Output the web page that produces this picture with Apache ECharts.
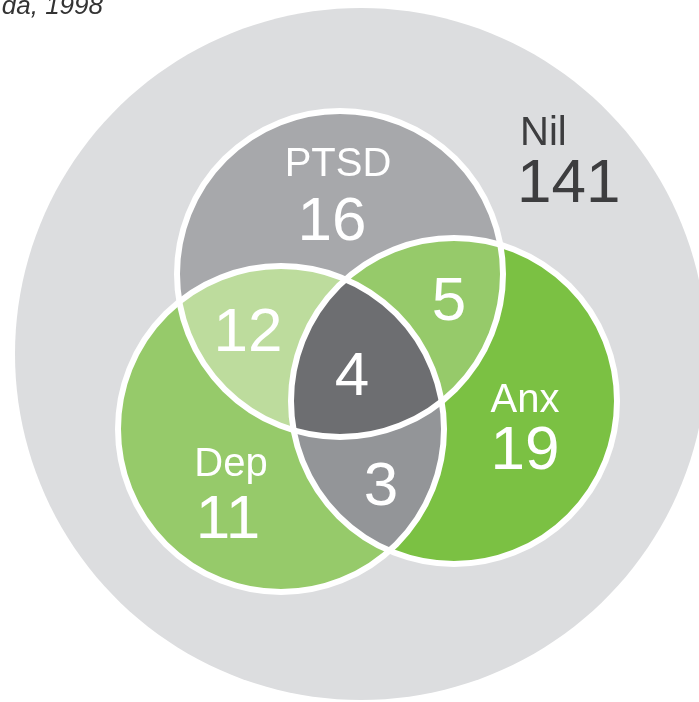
<!DOCTYPE html>
<html>
<head>
<meta charset="utf-8">
<script src="https://cdn.jsdelivr.net/npm/echarts@6/dist/echarts.min.js"></script>
<style>
  html, body { margin: 0; padding: 0; background: #fff; }
  #chart { width: 699px; height: 702px; }
</style>
</head>
<body>
<div id="chart"></div>
<script>
// ---- data ----
const setNames = ['PTSD', 'Dep', 'Anx'];
const regionNames = ['Nil', 'PTSD', 'Dep', 'Anx', 'PTSD+Dep', 'PTSD+Anx', 'Dep+Anx', 'PTSD+Dep+Anx'];
const regionSets = [[], [0], [1], [2], [0, 1], [0, 2], [1, 2], [0, 1, 2]];
const regionCounts = [141, 16, 11, 19, 12, 5, 3, 4];
const sourceNote = 'da, 1998';

// ---- layout (pixel units of the hidden axes) ----
const outer = { x: 361, y: 354, r: 346 };
const circles = [
  { x: 340, y: 274 },   // PTSD
  { x: 281, y: 429 },   // Dep
  { x: 454, y: 401 }    // Anx
];
const R = 163;
// where each region puts its name / count
const namePos = [[520, 134, 'left'], [338, 165], [231, 465], [525, 401], null, null, null, null];
const countPos = [[517, 185, 'left'], [332, 223], [228, 521], [525, 452], [248, 334], [449, 303], [381, 488], [352, 378]];

// ---- styles ----
const regionColors = ['#dcdddf', '#a7a8ab', '#96ca6a', '#7bc143', '#bddc9d', '#96ca6a', '#939598', '#6d6e71'];
const fontFamily = '"Liberation Sans", Arial, sans-serif';

// ---- geometry helpers ----
function intersections(a, b) {
  const dx = b.x - a.x, dy = b.y - a.y;
  const d = Math.sqrt(dx * dx + dy * dy);
  const h = Math.sqrt(R * R - (d / 2) * (d / 2));
  const mx = (a.x + b.x) / 2, my = (a.y + b.y) / 2;
  const ux = -dy / d, uy = dx / d;
  return [[mx + ux * h, my + uy * h], [mx - ux * h, my - uy * h]];
}
function inside(p, c) {
  return (p[0] - c.x) ** 2 + (p[1] - c.y) ** 2 < R * R;
}
// points along the short arc of circle c from p to q
function arc(c, p, q) {
  const a0 = Math.atan2(p[1] - c.y, p[0] - c.x);
  let a1 = Math.atan2(q[1] - c.y, q[0] - c.x);
  let da = a1 - a0;
  while (da > Math.PI) da -= 2 * Math.PI;
  while (da < -Math.PI) da += 2 * Math.PI;
  const pts = [];
  const n = 60;
  for (let i = 0; i <= n; i++) {
    const t = a0 + da * i / n;
    pts.push([c.x + R * Math.cos(t), c.y + R * Math.sin(t)]);
  }
  return pts;
}
function circlePts(c, r) {
  const pts = [];
  for (let i = 0; i < 180; i++) {
    const t = i / 180 * Math.PI * 2;
    pts.push([c.x + r * Math.cos(t), c.y + r * Math.sin(t)]);
  }
  return pts;
}
function regionShape(sets) {
  if (sets.length === 0) return circlePts(outer, outer.r);
  if (sets.length === 1) return circlePts(circles[sets[0]], R);
  if (sets.length === 2) {
    const a = circles[sets[0]], b = circles[sets[1]];
    const [p1, p2] = intersections(a, b);
    return arc(a, p1, p2).concat(arc(b, p2, p1));
  }
  // triple region: corner = intersection of two circles lying inside the third
  const corner = (i, j, k) => intersections(circles[i], circles[j]).find(p => inside(p, circles[k]));
  const q01 = corner(0, 1, 2), q12 = corner(1, 2, 0), q20 = corner(2, 0, 1);
  return arc(circles[1], q01, q12).concat(arc(circles[2], q12, q20), arc(circles[0], q20, q01));
}

const chart = echarts.init(document.getElementById('chart'));

const regionData = regionNames.map((name, i) => ({ name: name, value: [i, regionCounts[i]] }));

chart.setOption({
  animation: false,
  grid: { left: 0, right: 0, top: 0, bottom: 0 },
  xAxis: { type: 'value', min: 0, max: 699, show: false },
  yAxis: { type: 'value', min: 0, max: 702, inverse: true, show: false },
  graphic: [{
    type: 'text',
    x: 103,
    y: 7,
    z: 100,
    style: {
      text: sourceNote,
      align: 'right',
      verticalAlign: 'middle',
      font: 'italic 26px ' + fontFamily,
      fill: '#333333'
    }
  }],
  series: [
    {
      // filled regions
      type: 'custom',
      coordinateSystem: 'cartesian2d',
      data: regionData,
      z: 1,
      renderItem: function (params, api) {
        const i = api.value(0);
        const pts = regionShape(regionSets[i]).map(p => api.coord(p));
        return {
          type: 'polygon',
          shape: { points: pts },
          style: { fill: regionColors[i], stroke: null }
        };
      }
    },
    {
      // white outlines of the three sets
      type: 'custom',
      coordinateSystem: 'cartesian2d',
      data: setNames.map((n, i) => ({ name: n, value: [i] })),
      z: 2,
      renderItem: function (params, api) {
        const c = circles[api.value(0)];
        const ctr = api.coord([c.x, c.y]);
        const r = api.size([R, 0])[0];
        return {
          type: 'circle',
          shape: { cx: ctr[0], cy: ctr[1], r: r },
          style: { fill: null, stroke: '#ffffff', lineWidth: 6 }
        };
      }
    },
    {
      // names and counts
      type: 'custom',
      coordinateSystem: 'cartesian2d',
      data: regionData,
      z: 3,
      renderItem: function (params, api) {
        const i = api.value(0);
        const color = i === 0 ? '#3d3d3f' : '#ffffff';
        const children = [];
        const np = namePos[i];
        if (np) {
          const p = api.coord([np[0], np[1]]);
          children.push({
            type: 'text',
            x: p[0], y: p[1],
            style: {
              text: regionNames[i], fill: color, align: np[2] || 'center', verticalAlign: 'middle',
              font: '40px ' + fontFamily
            }
          });
        }
        const cp = countPos[i];
        const q = api.coord([cp[0], cp[1]]);
        children.push({
          type: 'text',
          x: q[0], y: q[1],
          style: {
            text: String(api.value(1)), fill: color, align: cp[2] || 'center', verticalAlign: 'middle',
            font: '62px ' + fontFamily
          }
        });
        return { type: 'group', children: children };
      }
    }
  ]
});
</script>
</body>
</html>
